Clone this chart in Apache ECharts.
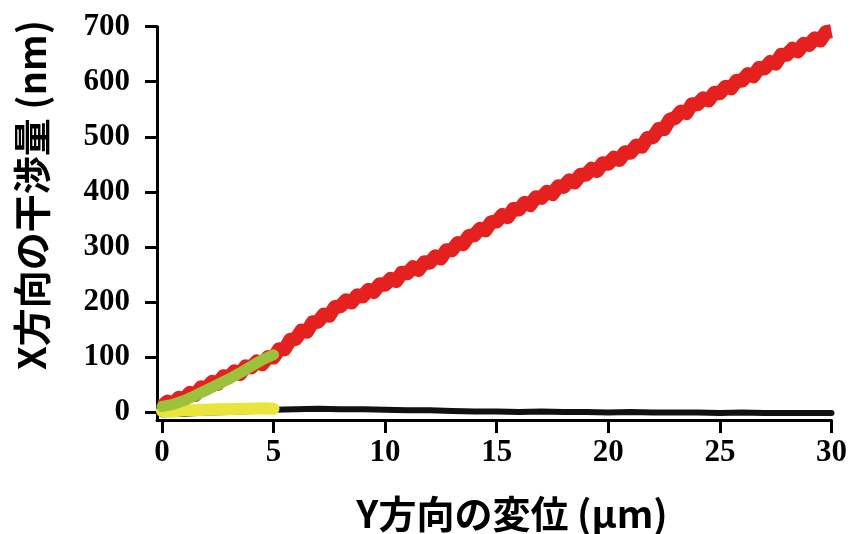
<!DOCTYPE html>
<html>
<head>
<meta charset="utf-8">
<script src="https://cdn.jsdelivr.net/npm/echarts@6/dist/echarts.min.js"></script>
<style>
html,body{margin:0;padding:0;background:#fff;}
#chart{width:850px;height:534px;}
</style>
</head>
<body>
<div id="chart"></div>
<script>
// ---- data ----
const xTicks = [0, 5, 10, 15, 20, 25, 30];
const yTicks = [0, 100, 200, 300, 400, 500, 600, 700];
const xTitle = 'Y方向の変位 (μm)';
const yTitle = 'X方向の干渉量 (nm)';

// red: long 0–30 µm trace
const redX = [0,0.25,0.5,0.75,1,1.25,1.5,1.75,2,2.25,2.5,2.75,3,3.25,3.5,3.75,4,4.25,4.5,4.75,
  5,5.25,5.5,5.75,6,6.25,6.5,6.75,7,7.25,7.5,7.75,8,8.25,8.5,8.75,9,9.25,9.5,9.75,
  10,10.25,10.5,10.75,11,11.25,11.5,11.75,12,12.25,12.5,12.75,13,13.25,13.5,13.75,14,14.25,14.5,14.75,
  15,15.25,15.5,15.75,16,16.25,16.5,16.75,17,17.25,17.5,17.75,18,18.25,18.5,18.75,19,19.25,19.5,19.75,
  20,20.25,20.5,20.75,21,21.25,21.5,21.75,22,22.25,22.5,22.75,23,23.25,23.5,23.75,24,24.25,24.5,24.75,
  25,25.25,25.5,25.75,26,26.25,26.5,26.75,27,27.25,27.5,27.75,28,28.25,28.5,28.75,29,29.25,29.5,29.75,30];
const redY = [10,19,14,26,23,35,31,45,43,55,51,65,63,74,69,83,81,92,87,100,
  99,114,114,131,133,148,146,163,164,177,175,191,192,203,199,212,210,222,218,232,
  231,242,238,253,252,263,258,272,271,283,279,294,294,307,305,320,321,333,330,345,
  346,358,354,369,368,380,376,390,389,400,396,410,409,421,417,431,431,442,438,452,
  451,462,458,472,471,484,482,498,499,514,514,531,534,546,543,559,559,570,566,580,
  579,591,588,602,602,614,610,625,624,636,633,649,649,660,655,669,667,679,675,690,692];

// green: 0–5 µm trace
const greenX = [0,0.5,1,1.5,2,2.5,3,3.5,4,4.5,5];
const greenY = [10,14,21,30,40,50,60,71,83,95,104];

// yellow: 0–5 µm trace near zero
const yellowX = [0,0.5,1,1.5,2,2.5,3,3.5,4,4.5,5];
const yellowY = [2,1,3,3,4,5,5,6,6,7,6];

// black: 0–30 µm trace near zero
const blackX = [0,1,2,3,4,5,6,7,8,9,10,11,12,13,14,15,16,17,18,19,20,21,22,23,24,25,26,27,28,29,30];
const blackY = [-4,-3,-1,0,2,4,5,6,5,5,4,3,3,2,1,1,0,1,0,0,-1,0,-1,-1,-1,-2,-1,-2,-2,-2,-2];

const pair = (xs, ys) => xs.map((x, i) => [x, ys[i]]);

const chart = echarts.init(document.getElementById('chart'), null, {renderer: 'canvas'});
const axisFont = {fontFamily: 'Liberation Serif', fontWeight: 'bold', fontSize: 31, color: '#000'};
const lineSeries = (name, data, color, width, z, cap) => ({
  name, type: 'line', data, showSymbol: false, symbol: 'none', z,
  lineStyle: {color, width, cap: cap || 'round', join: 'round'},
  itemStyle: {color}, animation: false
});

chart.setOption({
  animation: false,
  backgroundColor: '#fff',
  grid: {left: 157, right: 15, top: 26.7, bottom: 114, containLabel: false},
  xAxis: {
    type: 'value', min: -0.22, max: 30,
    axisLine: {show: true, onZero: false, lineStyle: {color: '#000', width: 3}},
    axisTick: {show: true, length: 13, lineStyle: {color: '#000', width: 3}, customValues: xTicks},
    axisLabel: Object.assign({margin: 17, customValues: xTicks}, axisFont),
    splitLine: {show: false}
  },
  yAxis: {
    type: 'value', min: -14.5, max: 700,
    axisLine: {show: true, onZero: false, lineStyle: {color: '#000', width: 3}},
    axisTick: {show: true, length: 12, lineStyle: {color: '#000', width: 3}, customValues: yTicks},
    axisLabel: Object.assign({margin: 27, customValues: yTicks}, axisFont),
    splitLine: {show: false}
  },
  graphic: [
    {type: 'text', x: 32, y: 195, rotation: Math.PI / 2,
     style: {text: yTitle, fontFamily: 'Noto Sans CJK JP', fontWeight: 'bold', fontSize: 38,
             fill: '#000', align: 'center', verticalAlign: 'middle'}},
    {type: 'text', x: 512, y: 514,
     style: {text: xTitle, fontFamily: 'Noto Sans CJK JP', fontWeight: 'bold', fontSize: 38,
             fill: '#000', align: 'center', verticalAlign: 'middle'}}
  ],
  series: [
    lineSeries('black', pair(blackX, blackY), '#111111', 6, 2),
    lineSeries('red', pair(redX, redY), '#e5211f', 14, 3, 'butt'),
    lineSeries('yellow', pair(yellowX, yellowY), '#e9e53a', 12, 4),
    lineSeries('green', pair(greenX, greenY), '#9cc13c', 11, 5)
  ]
});
</script>
</body>
</html>
